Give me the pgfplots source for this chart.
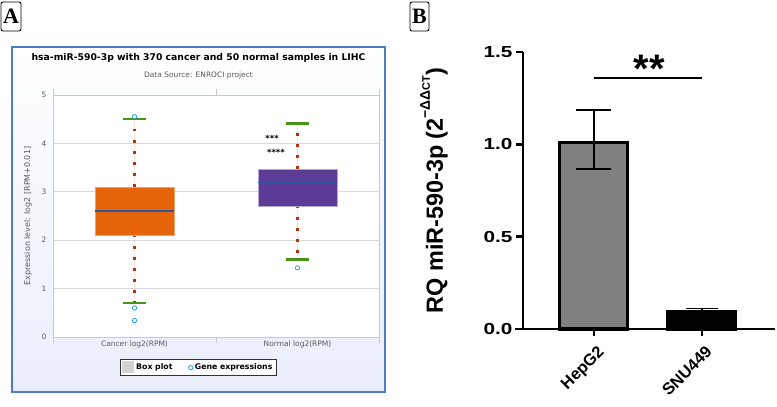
\documentclass[border=0pt]{standalone}
\usepackage{pgfplots}
\pgfplotsset{compat=1.18}
\usepgfplotslibrary{statistics}
\usepackage{fontspec}
\setmainfont{DejaVu Sans}
\newfontfamily\arial{Liberation Sans}
\newfontfamily\arialw[FakeStretch=1.3]{Liberation Sans}
\newfontfamily\serif{Liberation Serif}

\definecolor{boxorange}{RGB}{230,100,10}
\definecolor{boxpurple}{RGB}{93,60,152}
\definecolor{medblue}{RGB}{44,90,160}
\definecolor{whiskred}{RGB}{180,50,20}
\definecolor{capgreen}{RGB}{70,150,20}
\definecolor{outblue}{RGB}{40,160,220}
\definecolor{frameblue}{RGB}{80,125,200}
\definecolor{framebg}{RGB}{234,238,250}
\definecolor{axgray}{RGB}{200,200,205}
\definecolor{gridgray}{RGB}{215,215,220}
\definecolor{labgray}{RGB}{90,90,90}
\definecolor{bargray}{RGB}{128,128,128}

% dotted whiskers with green caps
\tikzset{
  wdots/.style={draw=whiskred, line width=2.6bp, dash pattern=on 2.6bp off 8.5bp},
  wcap/.style={draw=capgreen, solid, line width=2.2bp},
}
\pgfplotsset{
  boxplot/draw/lower whisker/.code={
    \draw[wdots] (boxplot box cs:\pgfplotsboxplotvalue{lower quartile},0.5)
      -- (boxplot whisker cs:\pgfplotsboxplotvalue{lower whisker},0.5);
    \draw[wcap] (boxplot whisker cs:\pgfplotsboxplotvalue{lower whisker},0)
      -- (boxplot whisker cs:\pgfplotsboxplotvalue{lower whisker},1);
  },
  boxplot/draw/upper whisker/.code={
    \draw[wdots] (boxplot box cs:\pgfplotsboxplotvalue{upper quartile},0.5)
      -- (boxplot whisker cs:\pgfplotsboxplotvalue{upper whisker},0.5);
    \draw[wcap] (boxplot whisker cs:\pgfplotsboxplotvalue{upper whisker},0)
      -- (boxplot whisker cs:\pgfplotsboxplotvalue{upper whisker},1);
  },
}

\begin{document}
\begin{tikzpicture}
\useasboundingbox (0,0) rectangle (777bp,407bp);
\fill[white] (0,0) rectangle (777bp,407bp);

% panel A frame and titles
\draw[frameblue, line width=1.3bp, top color=white, bottom color=framebg] (12bp,15bp) rectangle (385bp,360bp);
\node[font=\bfseries\fontsize{9.3}{10}\selectfont] at (198.5bp,349bp) {hsa-miR-590-3p with 370 cancer and 50 normal samples in LIHC};
\node[font=\fontsize{7.5}{8}\selectfont, text=labgray] at (198.5bp,332bp) {Data Source: ENROCI project};

% panel letters
\draw[line width=0.9bp, rounded corners=2bp] (1bp,376bp) rectangle (21bp,405bp);
\node[font=\serif\bfseries\fontsize{22}{22}\selectfont] at (11bp,390.5bp) {A};
\draw[line width=0.9bp, rounded corners=2bp] (410bp,376bp) rectangle (429bp,405bp);
\node[font=\serif\bfseries\fontsize{22}{22}\selectfont] at (419.5bp,390.5bp) {B};

% ---------- A: box plots ----------
\begin{axis}[
  at={(53bp,70bp)}, anchor=south west,
  scale only axis, width=326bp, height=242bp,
  xmin=0, xmax=2, ymin=0, ymax=5,
  axis background/.style={fill=white},
  axis line style={draw=axgray},
  ytick={0,1,2,3,4,5}, ymajorgrids,
  grid style={draw=gridgray, line width=0.6bp},
  ytick style={draw=none},
  xtick={0.5,1.5},
  xticklabels={Cancer log2(RPM), Normal log2(RPM)},
  major tick length=0pt,
  extra x ticks={0,1,2}, extra x tick labels={},
  extra x tick style={major tick length=6bp, tick align=outside,
    tick style={draw=axgray, line width=0.6bp}, grid=none},
  tick label style={font=\fontsize{7.5}{8}\selectfont, text=labgray},
  /pgf/number format/assume math mode=true,
  yticklabel style={xshift=-3bp},
  ylabel={Expression level: log2 [RPM+0.01]},
  every axis y label/.style={at={(axis description cs:-0.0767,0.5)},
    rotate=90, anchor=center, font=\fontsize{8}{8}\selectfont, text=labgray},
  legend style={at={(axis description cs:0.446,-0.091)}, anchor=north,
    legend columns=2, draw=black!80, line width=0.9bp, fill=white,
    font=\bfseries\fontsize{7.8}{9}\selectfont, inner sep=1.8bp,
    /tikz/every even column/.append style={column sep=14bp}},
  legend cell align=left,
  boxplot/draw direction=y,
  clip=false,
]
\addlegendimage{legend image code/.code={
    \fill[gray!35] (0.1em,-0.5em) rectangle (1.2em,0.6em);}}
\addlegendentry{Box plot}
\addlegendimage{only marks, mark=o, mark size=2.2bp, outblue, mark options={line width=0.8bp}}
\addlegendentry{Gene expressions}

\addplot[boxplot prepared={lower whisker=0.70, lower quartile=2.11, median=2.60,
    upper quartile=3.10, upper whisker=4.50,
    draw position=0.5, box extend=0.485, whisker extend=0.147},
  fill=boxorange, draw=boxorange!60!white,
  boxplot/every median/.style={draw=medblue, line width=1.6bp}]
  coordinates {};
\addplot[boxplot prepared={lower whisker=1.60, lower quartile=2.71, median=3.19,
    upper quartile=3.47, upper whisker=4.41,
    draw position=1.5, box extend=0.485, whisker extend=0.147},
  fill=boxpurple, draw=boxpurple!45!white,
  boxplot/every median/.style={draw=medblue, line width=1.6bp}]
  coordinates {};

% single gene expressions outside the whiskers
\addplot[only marks, mark=o, mark size=2.2bp, outblue, mark options={line width=0.8bp}]
  coordinates {(0.5,4.55) (0.5,0.60) (0.5,0.34) (1.5,1.43)};

\node[font=\bfseries\fontsize{8.5}{8.5}\selectfont] at (axis cs:1.344,4.11) {***};
\node[font=\bfseries\fontsize{8.5}{8.5}\selectfont] at (axis cs:1.368,3.82) {****};
\end{axis}

% ---------- B: bar chart ----------
\begin{axis}[
  at={(523bp,78bp)}, anchor=south west,
  scale only axis, width=252bp, height=277bp,
  xmin=0.343, xmax=2.676, ymin=0, ymax=1.5,
  axis x line=bottom, axis y line=left,
  axis line style={line width=2.6bp, -},
  x axis line style={shorten <=-8bp},
  tick align=outside, major tick length=7bp,
  tick style={line width=2.4bp, black},
  ytick={0,0.5,1,1.5},
  yticklabel style={/pgf/number format/.cd, fixed, fixed zerofill, precision=1},
  xtick={1,2}, xticklabels={HepG2, SNU449},
  tick label style={font=\arialw\bfseries\fontsize{16}{16}\selectfont},
  xticklabel style={font=\arial\bfseries\fontsize{16.5}{16}\selectfont,
    rotate=45, anchor=north east, inner sep=0pt, yshift=-8bp, xshift=-4bp},
  /pgf/number format/assume math mode=true,
  ylabel={RQ miR-590-3p (2\raisebox{0.55em}{\fontsize{14}{14}\selectfont −ΔΔ\fontsize{11}{11}\selectfont CT})},
  every axis y label/.style={at={(axis description cs:-0.353,0.5)},
    rotate=90, anchor=center, font=\arial\bfseries\fontsize{23.5}{23.5}\selectfont},
  clip=false,
]
\addplot[ybar, bar shift=0pt, bar width=68bp, fill=bargray, draw=black, line width=3bp,
  error bars/.cd, y dir=both, y explicit,
  error bar style={line width=1.5bp, black},
  error mark options={rotate=90, mark size=17.5bp, line width=1.5bp, black}]
  coordinates {(1,1.01) += (0,0.176) -= (0,0.144)};
\addplot[ybar, bar shift=0pt, bar width=68bp, fill=black, draw=black, line width=3bp,
  error bars/.cd, y dir=plus, y explicit,
  error bar style={line width=1.5bp, black},
  error mark options={rotate=90, mark size=16bp, line width=1.5bp, black}]
  coordinates {(2,0.095) += (0,0.015)};

% significance bracket
\addplot[black, line width=2.5bp] coordinates {(1,1.36) (2,1.36)};
\node[anchor=base, font=\arial\bfseries\fontsize{40}{40}\selectfont] at (axis cs:1.51,1.335) {**};
\end{axis}
\end{tikzpicture}
\end{document}
